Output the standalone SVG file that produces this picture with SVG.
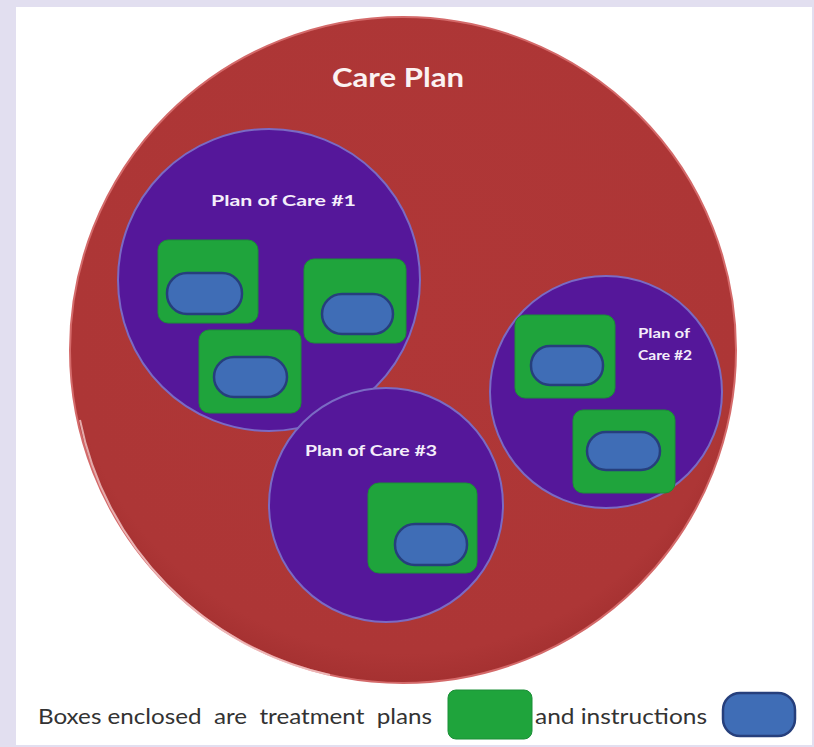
<svg xmlns="http://www.w3.org/2000/svg" width="814" height="747" viewBox="0 0 814 747">
<defs>
<style>
.plan{fill:#55179a;stroke:#7a6ac4;stroke-width:2}
.tp{fill:#1fa43c;stroke:#1a8f36;stroke-width:1}
.ins{fill:#3f6db6;stroke:#263f7c;stroke-width:2.5}
.lbl{font-family:Lato,"Liberation Sans",sans-serif;font-weight:bold;fill:#f4eefa}
.leg{font-family:Lato,"Liberation Sans",sans-serif;font-size:22px;fill:#333333;white-space:pre}
</style>
<radialGradient id="redg" cx="0.5" cy="0.45" r="0.55">
<stop offset="0" stop-color="#b03737"/>
<stop offset="0.92" stop-color="#ad3636"/>
<stop offset="1" stop-color="#a53131"/>
</radialGradient>
</defs>
<rect x="0" y="0" width="814" height="747" fill="#e2dff0"/>
<rect x="16" y="7" width="796" height="738" fill="#ffffff"/>

<g id="care-plan">
<circle cx="403" cy="350" r="333" fill="url(#redg)" stroke="#d46a6a" stroke-width="2"/>
<path d="M 80 420 A 326 326 0 0 0 330 675" fill="none" stroke="#f3c8c8" stroke-width="2" opacity="0.8"/>
<text x="398" y="87" text-anchor="middle" font-family="Lato,'Liberation Sans',sans-serif" font-weight="bold" font-size="26" fill="#fbf2f2" textLength="132" lengthAdjust="spacingAndGlyphs">Care Plan</text>
</g>

<g id="plan-of-care-1">
<circle class="plan" cx="269" cy="280" r="151"/>
<text class="lbl" x="211" y="206" font-size="16" textLength="145" lengthAdjust="spacingAndGlyphs">Plan of Care #1</text>
<rect class="tp" x="158" y="240" width="100" height="83" rx="10"/>
<rect class="ins" x="167" y="273" width="75" height="41" rx="20"/>
<rect class="tp" x="304" y="259" width="102" height="84" rx="10"/>
<rect class="ins" x="322" y="294" width="71" height="40" rx="20"/>
<rect class="tp" x="199" y="330" width="102" height="83" rx="10"/>
<rect class="ins" x="214" y="357" width="73" height="40" rx="20"/>
</g>

<g id="plan-of-care-2">
<circle class="plan" cx="606" cy="392" r="116"/>
<text class="lbl" x="638" y="338" font-size="13" textLength="52" lengthAdjust="spacingAndGlyphs">Plan of</text>
<text class="lbl" x="638" y="360" font-size="13" textLength="54" lengthAdjust="spacingAndGlyphs">Care #2</text>
<rect class="tp" x="515" y="315" width="100" height="83" rx="10"/>
<rect class="ins" x="531" y="346" width="72" height="39" rx="19"/>
<rect class="tp" x="573" y="410" width="102" height="83" rx="10"/>
<rect class="ins" x="587" y="432" width="73" height="38" rx="19"/>
</g>

<g id="plan-of-care-3">
<circle class="plan" cx="386" cy="505" r="117"/>
<text class="lbl" x="305" y="456" font-size="15" textLength="132" lengthAdjust="spacingAndGlyphs">Plan of Care #3</text>
<rect class="tp" x="368" y="483" width="109" height="90" rx="11"/>
<rect class="ins" x="395" y="524" width="72" height="41" rx="20"/>
</g>

<g id="legend">
<text class="leg" x="38" y="724" textLength="394" lengthAdjust="spacingAndGlyphs">Boxes enclosed  are  treatment  plans</text>
<rect class="tp" x="448" y="690" width="84" height="49" rx="8"/>
<text class="leg" x="535" y="724" textLength="172" lengthAdjust="spacingAndGlyphs">and instructions</text>
<rect class="ins" x="723" y="693" width="72" height="43" rx="17"/>
</g>
<g id="connectors"></g>
</svg>
